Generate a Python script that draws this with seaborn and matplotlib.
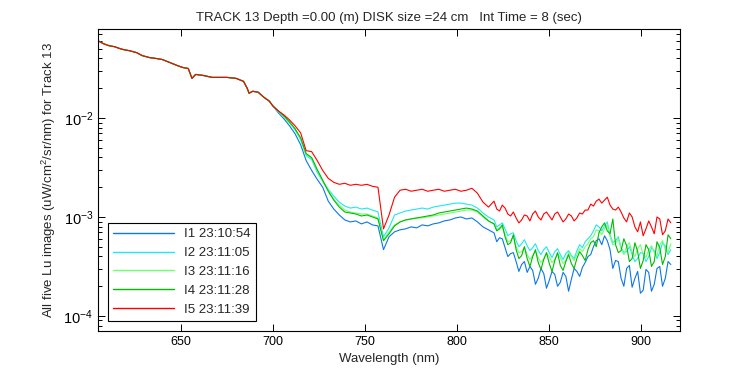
import numpy as np
import pandas as pd
import matplotlib
matplotlib.use("Agg")
import matplotlib.pyplot as plt
import seaborn as sns

# common part of the spectrum (all five images overlap), log10(Lu)
wl_shared = [605, 608, 611, 614, 617, 619, 622, 626, 629, 633, 637, 640, 644, 648,
             651, 654, 656, 658, 662, 667, 671, 675, 680, 684, 686, 687, 689, 692,
             695, 698, 700]
lu_shared = [-1.22, -1.25, -1.27, -1.28, -1.30, -1.31, -1.32, -1.34, -1.37, -1.39,
             -1.40, -1.41, -1.44, -1.47, -1.49, -1.50, -1.60, -1.56, -1.57, -1.59,
             -1.59, -1.59, -1.60, -1.63, -1.70, -1.75, -1.73, -1.74, -1.79, -1.83,
             -1.88]

# 703 ... 916 nm, every 3 nm
wl_tail = np.arange(703, 917, 3)
# extra in-between samples in the noisy red end
wl_mid = np.arange(821.5, 915, 3)

lu_i1 = [-1.95, -2.01, -2.08, -2.16, -2.27, -2.43, -2.53, -2.62, -2.70, -2.84,
         -2.92, -2.98, -3.03, -3.05, -3.04, -3.07, -3.05, -3.08, -3.09, -3.33,
         -3.20, -3.15, -3.13, -3.12, -3.10, -3.11, -3.08, -3.09, -3.07, -3.06,
         -3.04, -3.03, -3.01, -3.00, -3.02, -3.01, -3.05, -3.10, -3.13, -3.16,
         -3.21, -3.31, -3.37, -3.45, -3.48, -3.56, -3.54, -3.62, -3.57, -3.64,
         -3.58, -3.66, -3.60, -3.63, -3.55, -3.51, -3.40, -3.30, -3.22, -3.19,
         -3.33, -3.44, -3.62, -3.52, -3.71, -3.55, -3.74, -3.56, -3.68, -3.50,
         -3.62, -3.48]
lu_i2 = [-1.94, -1.99, -2.05, -2.12, -2.22, -2.38, -2.42, -2.55, -2.64, -2.72,
         -2.79, -2.85, -2.89, -2.91, -2.90, -2.92, -2.91, -2.93, -2.95, -3.20,
         -3.11, -2.98, -2.96, -2.94, -2.93, -2.92, -2.91, -2.92, -2.90, -2.89,
         -2.88, -2.87, -2.86, -2.86, -2.87, -2.88, -2.91, -2.96, -3.00, -3.03,
         -3.08, -3.12, -3.17, -3.24, -3.27, -3.29, -3.31, -3.34, -3.33, -3.36,
         -3.35, -3.38, -3.37, -3.39, -3.34, -3.31, -3.22, -3.14, -3.10, -3.09,
         -3.18, -3.24, -3.31, -3.35, -3.38, -3.42, -3.37, -3.40, -3.34, -3.36,
         -3.29, -3.33]
lu_i3 = [-1.93, -1.99, -2.05, -2.11, -2.21, -2.37, -2.41, -2.53, -2.64, -2.73,
         -2.82, -2.88, -2.93, -2.95, -2.96, -2.97, -2.97, -2.99, -3.01, -3.23,
         -3.15, -3.08, -3.05, -3.03, -3.02, -3.01, -3.01, -3.00, -2.99, -2.98,
         -2.97, -2.96, -2.95, -2.94, -2.93, -2.93, -2.95, -3.00, -3.04, -3.07,
         -3.11, -3.18, -3.24, -3.30, -3.35, -3.38, -3.39, -3.41, -3.42, -3.40,
         -3.43, -3.41, -3.44, -3.40, -3.38, -3.35, -3.27, -3.20, -3.14, -3.12,
         -3.20, -3.27, -3.32, -3.30, -3.36, -3.32, -3.38, -3.33, -3.36, -3.28,
         -3.33, -3.27]
lu_i4 = [-1.93, -1.98, -2.04, -2.11, -2.20, -2.36, -2.40, -2.52, -2.63, -2.74,
         -2.83, -2.90, -2.95, -2.96, -2.97, -2.99, -2.98, -3.00, -3.02, -3.24,
         -3.17, -3.09, -3.05, -3.03, -3.02, -3.01, -3.00, -2.99, -2.98, -2.96,
         -2.95, -2.94, -2.93, -2.92, -2.91, -2.92, -2.94, -2.99, -3.04, -3.07,
         -3.12, -3.20, -3.26, -3.33, -3.39, -3.42, -3.40, -3.46, -3.43, -3.47,
         -3.44, -3.49, -3.45, -3.47, -3.42, -3.39, -3.33, -3.24, -3.16, -3.06,
         -3.17, -3.28, -3.34, -3.29, -3.42, -3.35, -3.44, -3.33, -3.45, -3.31,
         -3.40, -3.22]
lu_i5 = [-1.93, -1.97, -2.02, -2.08, -2.15, -2.33, -2.34, -2.43, -2.53, -2.61,
         -2.65, -2.67, -2.66, -2.68, -2.67, -2.68, -2.67, -2.69, -2.70, -3.12,
         -2.98, -2.80, -2.73, -2.72, -2.74, -2.73, -2.72, -2.74, -2.73, -2.72,
         -2.74, -2.73, -2.72, -2.74, -2.73, -2.71, -2.76, -2.85, -2.90, -2.84,
         -2.94, -2.91, -2.99, -3.01, -3.03, -2.99, -2.97, -3.00, -2.97, -2.99,
         -2.97, -3.00, -3.02, -2.99, -3.01, -2.97, -2.93, -2.89, -2.82, -2.83,
         -2.88, -2.93, -2.95, -3.05, -3.00, -3.15, -3.19, -3.04, -3.17, -3.02,
         -3.14, -3.06]

mid_i1 = [-3.25, -3.22, -3.40, -3.36, -3.55, -3.45, -3.50, -3.68, -3.52, -3.72,
          -3.55, -3.70, -3.56, -3.75, -3.52, -3.60, -3.46, -3.38, -3.24, -3.28,
          -3.24, -3.52, -3.45, -3.70, -3.49, -3.62, -3.77, -3.53, -3.75, -3.52,
          -3.70, -3.45]
mid_i2 = [-3.10, -3.06, -3.19, -3.16, -3.30, -3.23, -3.34, -3.27, -3.38, -3.30,
          -3.41, -3.32, -3.43, -3.34, -3.42, -3.28, -3.25, -3.19, -3.08, -3.14,
          -3.05, -3.26, -3.20, -3.36, -3.30, -3.45, -3.36, -3.45, -3.31, -3.42,
          -3.26, -3.38]
mid_i3 = [-3.13, -3.10, -3.25, -3.20, -3.36, -3.31, -3.43, -3.35, -3.46, -3.37,
          -3.46, -3.37, -3.47, -3.36, -3.44, -3.32, -3.30, -3.22, -3.13, -3.18,
          -3.08, -3.28, -3.22, -3.38, -3.26, -3.40, -3.28, -3.41, -3.29, -3.39,
          -3.24, -3.36]
mid_i4 = [-3.14, -3.08, -3.28, -3.18, -3.42, -3.30, -3.50, -3.33, -3.53, -3.36,
          -3.55, -3.36, -3.54, -3.38, -3.52, -3.35, -3.44, -3.26, -3.30, -3.10,
          -3.14, -3.02, -3.36, -3.22, -3.45, -3.26, -3.52, -3.28, -3.50, -3.25,
          -3.48, -3.18]
mid_i5 = [-2.92, -2.88, -2.97, -2.95, -3.06, -2.98, -3.04, -2.94, -3.03, -2.95,
          -3.03, -2.95, -3.05, -2.97, -3.04, -2.96, -2.93, -2.87, -2.84, -2.86,
          -2.80, -2.92, -2.90, -3.01, -2.96, -3.10, -3.05, -3.12, -3.10, -3.00,
          -3.18, -3.02]

labels = ["I1 23:10:54", "I2 23:11:05", "I3 23:11:16", "I4 23:11:28", "I5 23:11:39"]
colors = ["#0a78e8", "#1ee8f0", "#70ff70", "#00bb00", "#ff0000"]

rows = []
series = zip(labels, [lu_i1, lu_i2, lu_i3, lu_i4, lu_i5],
             [mid_i1, mid_i2, mid_i3, mid_i4, mid_i5])
for lab, tail, mid in series:
    wl = list(wl_shared) + list(wl_tail) + list(wl_mid)
    lu = list(lu_shared) + list(tail) + list(mid)
    for w, v in zip(wl, lu):
        rows.append({"wl": w, "lu": 10 ** v, "img": lab})
df = pd.DataFrame(rows)

sns.set_style("ticks")
plt.rcParams["font.family"] = ["Liberation Sans", "DejaVu Sans"]
plt.rcParams["mathtext.fontset"] = "custom"
plt.rcParams["mathtext.rm"] = "Liberation Sans"

fig = plt.figure(figsize=(7.5, 3.75), dpi=100)
ax = fig.add_axes([0.1307, 0.1173, 0.7760, 0.8054])

sns.lineplot(data=df, x="wl", y="lu", hue="img", palette=colors, hue_order=labels,
             estimator=None, sort=True, linewidth=0.8, ax=ax)

ax.set_yscale("log")
ax.set_xlim(605, 921)
ax.set_ylim(10 ** -4.152, 10 ** -1.101)
ax.set_xticks([650, 700, 750, 800, 850, 900])

ax.tick_params(which="both", direction="in", top=True, right=True,
               labelsize=9, colors="black", width=0.7)
ax.tick_params(axis="y", labelsize=10.5)
ax.tick_params(which="major", length=5)
ax.tick_params(which="minor", length=3)
for s in ax.spines.values():
    s.set_linewidth(0.8)
    s.set_color("black")

ax.set_xlabel("Wavelength (nm)", fontsize=9.5)
ax.set_ylabel("All five Lu images (uW/cm$^2$/sr/nm) for Track 13", fontsize=9.5)
ax.set_title("TRACK 13 Depth =0.00 (m) DISK size =24 cm   Int Time = 8 (sec)",
             fontsize=9.5)

leg = ax.legend(loc="lower left", bbox_to_anchor=(0.017, 0.033), borderaxespad=0,
                fontsize=9.5, handlelength=4.6, labelspacing=0.5, frameon=True,
                fancybox=False, edgecolor="black", framealpha=1)
leg.get_frame().set_linewidth(0.8)
for line in leg.get_lines():
    line.set_linewidth(1.0)

fig.savefig("out.png", dpi=100)
